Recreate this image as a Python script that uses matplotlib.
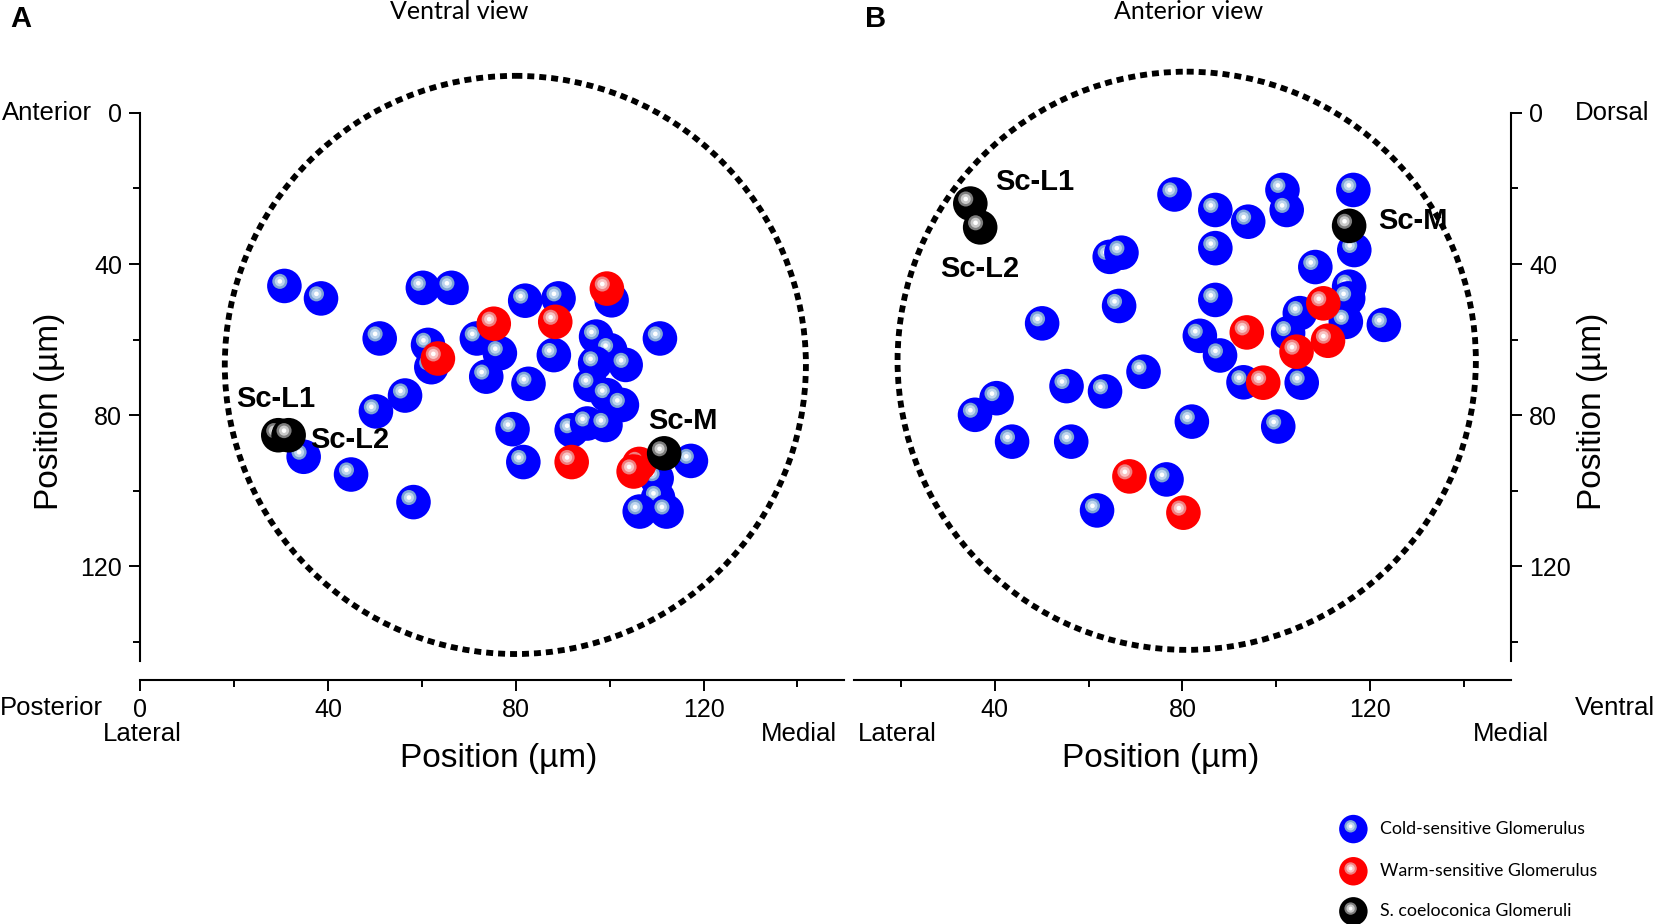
import matplotlib
matplotlib.use("Agg")
import matplotlib.pyplot as plt
from matplotlib.patches import Ellipse
from matplotlib.transforms import offset_copy

# ---------------- data (positions in µm) ----------------
a_cold_x = [30.7, 38.5, 51.0, 60.2, 66.3, 61.3, 62.0, 50.2, 56.4, 34.8, 44.9, 58.2,
            71.7, 76.6, 73.7, 82.0, 89.1, 100.4, 82.7, 88.1, 79.3, 81.6, 91.9,
            97.1, 100.1, 96.9, 103.4, 95.9, 110.7, 95.2, 99.4, 102.6, 99.1,
            117.3, 110.0, 110.3, 106.4, 112.1]
a_cold_y = [45.8, 49.1, 59.7, 46.3, 46.3, 61.4, 67.3, 79.0, 74.8, 91.0, 95.7, 103.0,
            59.7, 63.6, 69.8, 49.7, 49.1, 49.6, 71.7, 64.1, 83.7, 92.4, 84.0,
            59.2, 62.8, 66.3, 66.7, 72.0, 59.7, 82.2, 74.7, 77.3, 82.6,
            92.1, 96.7, 101.9, 105.5, 105.5]
a_warm_x = [63.4, 75.3, 88.4, 99.4, 91.9, 106.3, 105.1]
a_warm_y = [65.0, 55.8, 55.3, 46.5, 92.4, 92.9, 94.9]
a_sc_x = [29.4, 31.6, 111.6]
a_sc_y = [85.3, 85.3, 90.1]

b_cold_x = [78.3, 87.0, 94.0, 101.3, 102.2, 116.4, 116.6, 64.5, 67.0, 87.0, 108.3,
            66.5, 87.0, 50.1, 115.5, 115.3, 114.8, 122.9, 105.0, 102.5, 83.7, 88.0,
            71.7, 55.3, 63.5, 40.4, 35.8, 43.7, 56.3, 93.0, 105.4, 82.0, 100.4,
            76.6, 61.8]
b_cold_y = [21.6, 25.7, 28.8, 20.4, 25.7, 20.4, 36.3, 38.1, 37.0, 35.8, 40.8,
            51.1, 49.5, 55.7, 46.0, 49.1, 55.3, 56.1, 53.0, 58.3, 59.0, 64.2,
            68.5, 72.3, 73.7, 75.5, 79.9, 87.0, 87.0, 71.3, 71.4, 81.7, 83.0,
            97.0, 105.2]
b_warm_x = [93.7, 110.0, 111.0, 104.3, 97.2, 68.7, 80.2]
b_warm_y = [58.1, 50.4, 60.3, 63.2, 71.4, 96.2, 105.8]
b_sc_x = [34.8, 36.9, 115.5]
b_sc_y = [24.0, 30.3, 29.9]

sc_labels = ["Sc-L1", "Sc-L2", "Sc-M"]
major_ticks = [0, 40, 80, 120]
minor_ticks = [20, 60, 100, 140]
legend_labels = ["Cold-sensitive Glomerulus", "Warm-sensitive Glomerulus",
                 "S. coeloconica Glomeruli"]

# ---------------- layout helpers ----------------
W, H = 1568.0, 876.0  # layout grid of the reference


def fx(px):
    return px / W


def fy(py):
    return 1.0 - py / H


fig = plt.figure(figsize=(16.54, 9.24), dpi=100)
fig.patch.set_facecolor("white")

SANS = ["Liberation Sans", "DejaVu Sans"]
HUMAN = ["Lato", "DejaVu Sans"]

STYLES = {
    "cold": ("#0000ff", "#7ea4d6", "#bdd5ee"),
    "warm": ("#ff0000", "#f07f7f", "#f9c4c4"),
    "sc": ("#000000", "#7d7d7d", "#c9c9c9"),
}


def draw_balls(ax, xs, ys, kind, z0, size=620, off=3.3):
    base, ring, mid = STYLES[kind]
    tr = offset_copy(ax.transData, fig=ax.figure, x=-off, y=off, units="points")
    z = z0
    for x, y in zip(xs, ys):
        ax.scatter([x], [y], s=size, c=base, edgecolors="none", zorder=z, clip_on=False)
        ax.scatter([x], [y], s=size * 0.19, c=ring, edgecolors="none", zorder=z + 0.01,
                   transform=tr, clip_on=False)
        ax.scatter([x], [y], s=size * 0.085, c=mid, edgecolors="none", zorder=z + 0.02,
                   transform=tr, clip_on=False)
        ax.scatter([x], [y], s=size * 0.018, c="white", edgecolors="none", zorder=z + 0.03,
                   transform=tr, clip_on=False)
        z += 0.05
    return z


def style_axis(ax, side):
    ax.set_ylim(145, 0)
    ax.set_yticks(major_ticks)
    ax.set_yticks(minor_ticks, minor=True)
    ax.spines["top"].set_visible(False)
    if side == "left":
        ax.spines["right"].set_visible(False)
    else:
        ax.spines["left"].set_visible(False)
        ax.yaxis.tick_right()
    ax.spines["bottom"].set_position(("outward", 14))
    for s in ax.spines.values():
        s.set_linewidth(1.5)
    ax.tick_params(which="major", direction="out", length=8, width=1.4,
                   labelsize=18, pad=5)
    ax.tick_params(which="minor", direction="out", length=5, width=1.4)
    for lab in ax.get_xticklabels() + ax.get_yticklabels():
        lab.set_fontfamily(SANS)
    ax.set_facecolor("none")


CIRCLE_KW = dict(fill=False, lw=4.2, ls=(0, (1.2, 0.85)), color="black",
                 clip_on=False, zorder=1)

# ---------------- panel A ----------------
axA = fig.add_axes([fx(133), fy(626.5), 667.5 / W, (626.5 - 107) / H])
axA.set_xlim(0, 150)
axA.set_xticks(major_ticks)
axA.set_xticks(minor_ticks, minor=True)
style_axis(axA, "left")
axA.add_patch(Ellipse((79.9, 66.7), 123.8, 153.0, **CIRCLE_KW))
z = draw_balls(axA, a_cold_x, a_cold_y, "cold", 2)
z = draw_balls(axA, a_warm_x, a_warm_y, "warm", z)
z = draw_balls(axA, a_sc_x, a_sc_y, "sc", z)
for lab, (tx, ty) in zip(sc_labels, [(28.8, 75.6), (44.7, 86.5), (115.5, 81.5)]):
    axA.text(tx, ty, lab, fontsize=21, fontweight="bold", family=SANS,
             ha="center", va="center", zorder=20)

# ---------------- panel B ----------------
axB = fig.add_axes([fx(765 + 44.5), fy(626.5), 623.0 / W, (626.5 - 107) / H])
axB.set_xlim(10, 150)
axB.set_xticks(major_ticks[1:])
axB.set_xticks(minor_ticks, minor=True)
style_axis(axB, "right")
axB.add_patch(Ellipse((80.9, 65.6), 123.2, 153.0, **CIRCLE_KW))
z = draw_balls(axB, b_cold_x, b_cold_y, "cold", 2)
z = draw_balls(axB, b_warm_x, b_warm_y, "warm", z)
z = draw_balls(axB, b_sc_x, b_sc_y, "sc", z)
for lab, (tx, ty) in zip(sc_labels, [(48.5, 18.4), (36.9, 41.3), (129.0, 28.7)]):
    axB.text(tx, ty, lab, fontsize=21, fontweight="bold", family=SANS,
             ha="center", va="center", zorder=20)

# ---------------- figure texts ----------------
fig.text(fx(20), fy(18), "A", fontsize=21, fontweight="bold", family=SANS,
         ha="center", va="center")
fig.text(fx(830), fy(18), "B", fontsize=21, fontweight="bold", family=SANS,
         ha="center", va="center")
fig.text(fx(435), fy(11), "Ventral view", fontsize=18, family=HUMAN,
         ha="center", va="center")
fig.text(fx(1127), fy(11), "Anterior view", fontsize=18, family=HUMAN,
         ha="center", va="center")

dir_kw = dict(fontsize=18.5, family=SANS, va="center")
fig.text(fx(87), fy(107), "Anterior", ha="right", **dir_kw)
fig.text(fx(0), fy(671), "Posterior", ha="left", **dir_kw)
fig.text(fx(135), fy(696), "Lateral", ha="center", **dir_kw)
fig.text(fx(757), fy(696), "Medial", ha="center", **dir_kw)
fig.text(fx(1493), fy(107), "Dorsal", ha="left", **dir_kw)
fig.text(fx(1493), fy(671), "Ventral", ha="left", **dir_kw)
fig.text(fx(851), fy(696), "Lateral", ha="center", **dir_kw)
fig.text(fx(1432), fy(696), "Medial", ha="center", **dir_kw)

lab_kw = dict(fontsize=24, family=SANS, ha="center", va="center")
fig.text(fx(473), fy(719), "Position (µm)", **lab_kw)
fig.text(fx(1100), fy(719), "Position (µm)", **lab_kw)
fig.text(fx(47), fy(390), "Position (µm)", rotation=90, **lab_kw)
fig.text(fx(1510), fy(390), "Position (µm)", rotation=90, **lab_kw)

# ---------------- legend ----------------
axL = fig.add_axes([0, 0, 1, 1])
axL.set_xlim(0, W)
axL.set_ylim(H, 0)
axL.axis("off")
leg_y = [786, 826, 864]
for kind, ly, lab in zip(["cold", "warm", "sc"], leg_y, legend_labels):
    draw_balls(axL, [1283], [ly], kind, 30, size=420, off=2.0)
    axL.text(1308, ly, lab, fontsize=12.8, family=HUMAN, ha="left", va="center")

fig.savefig("out.png", dpi=100, facecolor="white")
